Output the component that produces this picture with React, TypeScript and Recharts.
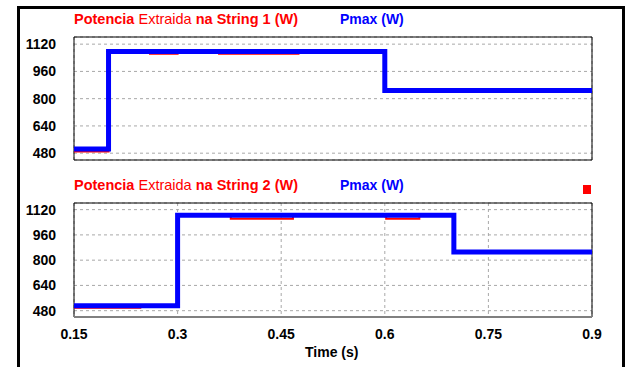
import { CartesianGrid, Line, LineChart, ReferenceArea, XAxis, YAxis } from "recharts";

// time breakpoints (s) and step values (W)
const timeTicks = [0.15, 0.3, 0.45, 0.6, 0.75, 0.9];
const powerTicks = [480, 640, 800, 960, 1120];

const pmax1Time = [0.15, 0.2, 0.6, 0.9];
const pmax1Val = [505, 1077, 848, 848];
const pext1Time = [0.15, 0.2, 0.26, 0.3, 0.36, 0.475, 0.6, 0.9];
const pext1Val = [490, 1077, 1064, 1072, 1064, 1070, 848, 848];

const pmax2Time = [0.15, 0.3, 0.7, 0.9];
const pmax2Val = [512, 1084, 851, 851];
const pext2Time = [0.15, 0.246, 0.3, 0.377, 0.467, 0.602, 0.65, 0.7, 0.9];
const pext2Val = [498, 512, 1084, 1062, 1084, 1062, 1084, 851, 851];

const toPoints = (ts: number[], vs: number[]) => ts.map((t, i) => ({ t, v: vs[i] }));

const FONT = "'Liberation Sans', Arial, sans-serif";
const RED = "#ff0000";
const BLUE = "#0000ff";
const Y_DOMAIN: [number, number] = [440, 1162];

const tickStyle = { fill: "#000", fontSize: 14, fontWeight: 700, fontFamily: FONT };

function Title({ top, n }: { top: number; n: number }) {
  return (
    <>
      <div style={{ position: "absolute", left: 74, top, fontFamily: FONT, fontSize: 14.5, color: RED, whiteSpace: "nowrap" }}>
        <b>Potencia</b> Extraida <b>na String {n} (W)</b>
      </div>
      <div style={{ position: "absolute", left: 340, top, fontFamily: FONT, fontSize: 14, fontWeight: 700, color: BLUE }}>
        Pmax (W)
      </div>
    </>
  );
}

function Panel({
  pmax,
  pext,
  height,
  margin,
  showX,
}: {
  pmax: { t: number; v: number }[];
  pext: { t: number; v: number }[];
  height: number;
  margin: { top: number; right: number; bottom: number; left: number };
  showX: boolean;
}) {
  return (
    <LineChart width={634} height={height} margin={margin}>
      <CartesianGrid stroke="#a8a8a8" strokeDasharray="3 3" />
      <XAxis
        dataKey="t"
        type="number"
        domain={[0.15, 0.9]}
        ticks={timeTicks}
        allowDataOverflow
        height={showX ? 30 : 0}
        tick={showX ? tickStyle : false}
        tickLine={false}
        tickSize={0}
        tickMargin={12}
        axisLine={{ stroke: "#808080", strokeWidth: 2 }}
      />
      <YAxis
        type="number"
        domain={Y_DOMAIN}
        ticks={powerTicks}
        allowDataOverflow
        width={74}
        tick={tickStyle}
        tickLine={false}
        tickSize={0}
        tickMargin={18}
        axisLine={false}
      />
      <ReferenceArea x1={0.15} x2={0.9} y1={Y_DOMAIN[0]} y2={Y_DOMAIN[1]} fill="none" stroke="#000" strokeWidth={1} />
      <Line data={pext} dataKey="v" type="stepAfter" stroke={RED} strokeWidth={2} dot={false} isAnimationActive={false} />
      <Line data={pmax} dataKey="v" type="stepAfter" stroke={BLUE} strokeWidth={5} dot={false} isAnimationActive={false} />
    </LineChart>
  );
}

export default function App() {
  return (
    <div style={{ position: "absolute", left: 0, top: 0, width: 634, height: 367, overflow: "hidden", background: "#fff" }}>
      <div style={{ position: "absolute", left: 17, top: 6, width: 602, height: 400, border: "3px solid #000" }} />
      <Title top={11} n={1} />
      <div style={{ position: "absolute", left: 0, top: 0 }}>
        <Panel
          pmax={toPoints(pmax1Time, pmax1Val)}
          pext={toPoints(pext1Time, pext1Val)}
          height={170}
          margin={{ top: 37, right: 42, bottom: 10, left: 0 }}
          showX={false}
        />
      </div>
      <Title top={177} n={2} />
      <div style={{ position: "absolute", left: 583, top: 185, width: 8, height: 9, background: RED }} />
      <div style={{ position: "absolute", left: 0, top: 170 }}>
        <Panel
          pmax={toPoints(pmax2Time, pmax2Val)}
          pext={toPoints(pext2Time, pext2Val)}
          height={197}
          margin={{ top: 33, right: 42, bottom: 20, left: 0 }}
          showX
        />
      </div>
      <div style={{ position: "absolute", left: 305, top: 344, fontFamily: FONT, fontSize: 14, fontWeight: 700, color: "#000" }}>
        Time (s)
      </div>
    </div>
  );
}
